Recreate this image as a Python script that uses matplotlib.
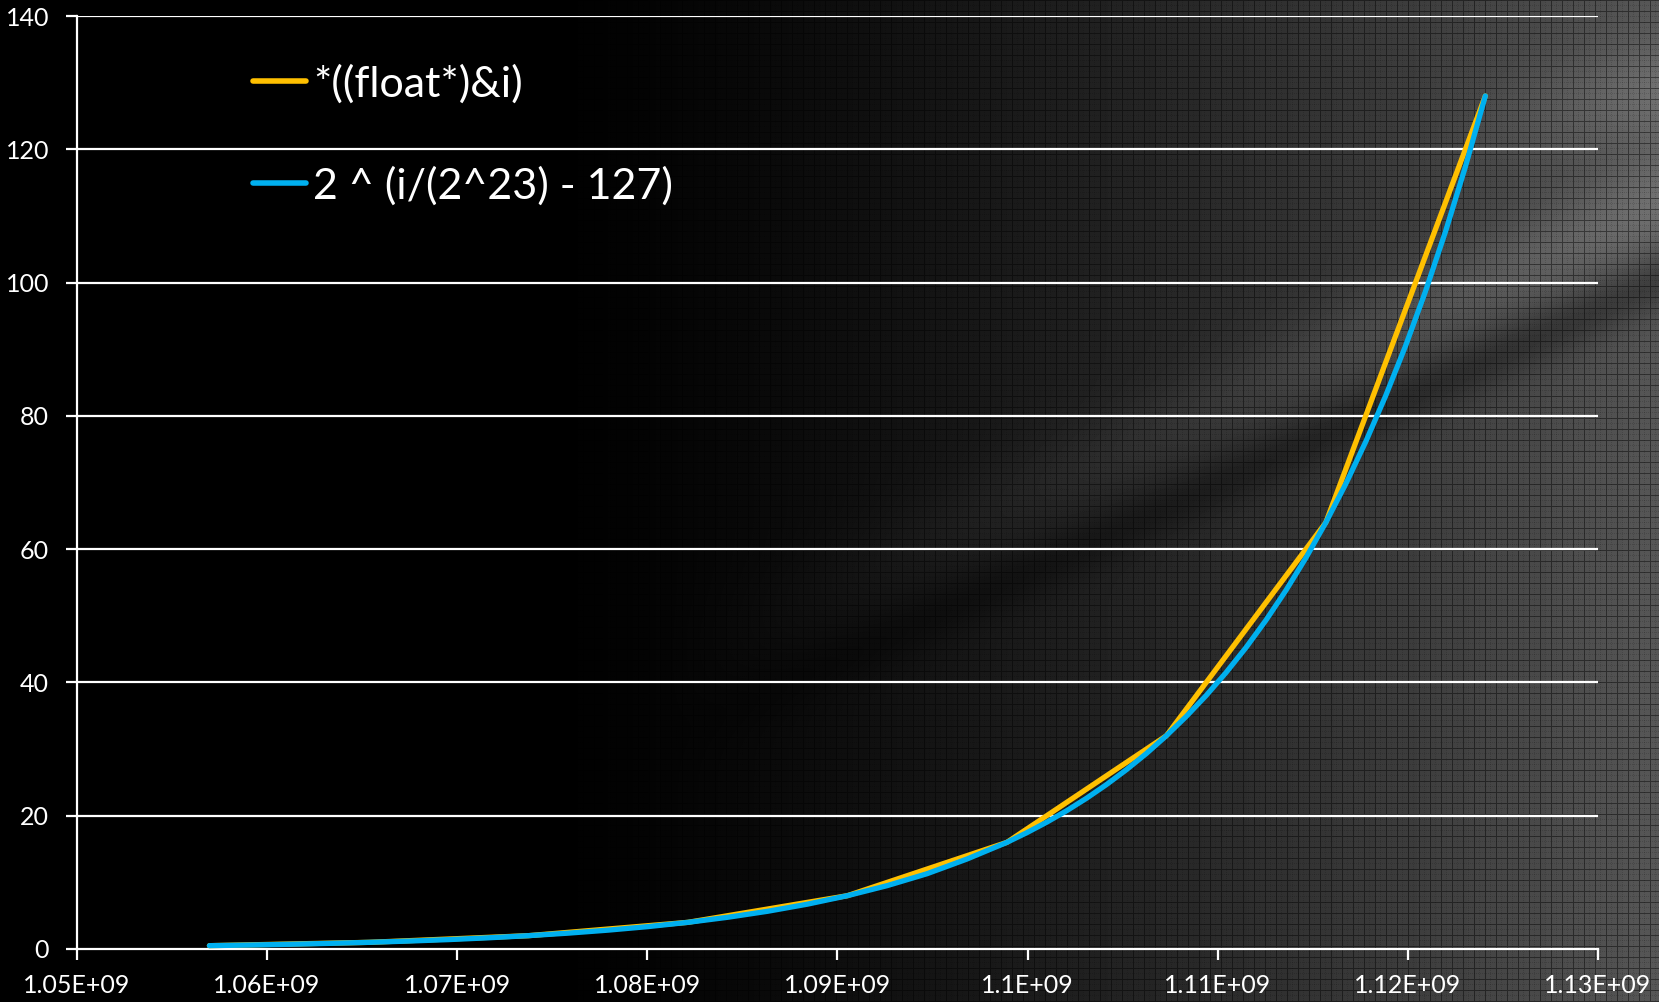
import numpy as np
import matplotlib
matplotlib.use("Agg")
import matplotlib.pyplot as plt

# punto flotante: bits del float vs. aproximacion exponencial
x_float = [1056964608, 1065353216, 1073741824, 1082130432, 1090519040,
           1098907648, 1107296256, 1115684864, 1124073472]
y_float = [0.5, 1, 2, 4, 8, 16, 32, 64, 128]

x_exp = [1056964608, 1059061760, 1061158912, 1063256064, 1065353216,
         1067450368, 1069547520, 1071644672, 1073741824, 1075838976,
         1077936128, 1080033280, 1082130432, 1084227584, 1086324736,
         1088421888, 1090519040, 1092616192, 1094713344, 1096810496,
         1098907648, 1099956224, 1101004800, 1102053376, 1103101952,
         1104150528, 1105199104, 1106247680, 1107296256, 1108344832,
         1109393408, 1110441984, 1111490560, 1112539136, 1113587712,
         1114636288, 1115684864, 1116733440, 1117782016, 1118830592,
         1119879168, 1120927744, 1121976320, 1123024896, 1124073472]
y_exp = [0.5, 0.595, 0.707, 0.841, 1, 1.19, 1.41, 1.68, 2, 2.38, 2.83, 3.36,
         4, 4.76, 5.66, 6.73, 8, 9.51, 11.3, 13.5,
         16, 17.45, 19.03, 20.75, 22.63, 24.68, 26.91, 29.34,
         32, 34.90, 38.05, 41.50, 45.25, 49.35, 53.82, 58.69,
         64, 69.79, 76.11, 83.00, 90.51, 98.70, 107.63, 117.38, 128]

xticks = [1.05e9, 1.06e9, 1.07e9, 1.08e9, 1.09e9, 1.10e9, 1.11e9, 1.12e9, 1.13e9]
xlabels = ["1.05E+09", "1.06E+09", "1.07E+09", "1.08E+09", "1.09E+09",
           "1.1E+09", "1.11E+09", "1.12E+09", "1.13E+09"]
yticks = [0, 20, 40, 60, 80, 100, 120, 140]

label_float = "*((float*)&i)"
label_exp = "2 ^ (i/(2^23) - 127)"

plt.rcParams['font.family'] = ['Lato', 'DejaVu Sans']

W, H = 1659, 1002
fig = plt.figure(figsize=(W / 100, H / 100), dpi=100)
fig.patch.set_facecolor('black')

# fondo: degradado negro -> gris con textura de rejilla
bg = fig.add_axes([0, 0, 1, 1])
bg.set_axis_off()
px, py = np.meshgrid(np.arange(W), np.arange(H))
u = px / W
v = py / H
base = np.clip((u - 0.32) / 0.68, 0, 1) ** 1.4 * 0.34
yc = 0.62 - 0.42 * (u - 0.45) / 0.55
w = np.clip((u - 0.4) / 0.6, 0, 1)
base += 0.10 * w * np.exp(-((v - yc) / 0.05) ** 2)
base -= 0.10 * w * np.exp(-((v - yc - 0.08) / 0.03) ** 2)
base += 0.10 * np.clip((u - 0.85) / 0.15, 0, 1) * np.exp(-((v - 0.12 + 0.3 * (u - 0.9)) / 0.05) ** 2)
base = np.clip(base, 0, 1)
grid = np.ones_like(base)
grid[(px % 11) == 0] = 0.55
grid[(py % 11) == 0] = 0.55
grid[((px % 11) == 5) & ((py % 2) == 0)] *= 0.85
grid[((py % 11) == 5) & ((px % 2) == 0)] *= 0.85
img = base * grid
bg.imshow(img, cmap='gray', vmin=0, vmax=1, aspect='auto', interpolation='nearest')

ax = fig.add_axes([77 / W, 1 - 949 / H, (1598 - 77) / W, (949 - 16) / H])
ax.set_facecolor('none')

for yv in yticks[1:]:
    ax.axhline(yv, color='white', lw=1.6, zorder=1)

ax.plot(x_float, y_float, color='#FFC000', lw=3.8, solid_capstyle='round',
        solid_joinstyle='round', label=label_float, zorder=3)
ax.plot(x_exp, y_exp, color='#00B0F0', lw=3.8, solid_capstyle='round',
        solid_joinstyle='round', label=label_exp, zorder=4)

ax.set_xlim(1.05e9, 1.13e9)
ax.set_ylim(0, 140)
ax.set_xticks(xticks)
ax.set_xticklabels(xlabels)
ax.set_yticks(yticks)
ax.set_yticklabels([str(t) for t in yticks])

for s in ['top', 'right']:
    ax.spines[s].set_visible(False)
for s in ['left', 'bottom']:
    ax.spines[s].set_color('white')
    ax.spines[s].set_linewidth(1.6)

ax.tick_params(axis='both', colors='white', labelsize=18, width=1.6, length=8,
               direction='out')
ax.tick_params(axis='x', pad=10)
ax.tick_params(axis='y', pad=12)

leg = ax.legend(loc='upper left', bbox_to_anchor=(0.09, 0.99), frameon=False,
                fontsize=31, handlelength=1.25, handletextpad=0.15,
                labelspacing=1.45, labelcolor='white')
for line in leg.get_lines():
    line.set_linewidth(4)

fig.savefig('out.png', dpi=100, facecolor='black')
